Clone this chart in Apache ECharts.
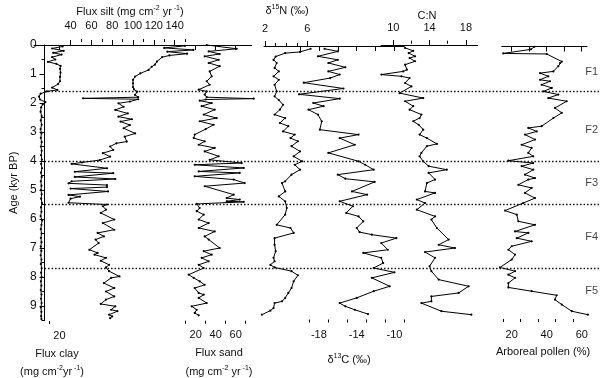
<!DOCTYPE html>
<html>
<head>
<meta charset="utf-8">
<script src="https://cdn.jsdelivr.net/npm/echarts@6/dist/echarts.min.js"></script>
<style>html,body{margin:0;background:#fff}#chart{width:600px;height:378px}</style>
</head>
<body>
<div id="chart"></div>
<script>
// [age kyr BP, value]
const clay = [[0.05,23],[0.12,13],[0.2,24],[0.27,14],[0.33,22],[0.42,13],[0.5,16],[0.58,9],[0.65,17],[0.72,21],[0.82,20.5],[0.95,21],[1.1,20.5],[1.25,20.5],[1.35,18.6],[1.47,13],[1.55,18],[1.6,8],[1.68,2],[1.78,0.5],[1.88,1.5],[1.97,6.5],[2.05,4],[2.15,2.5],[2.3,2],[2.45,3],[2.6,2.2],[2.75,3],[2.9,2],[3.05,2.8],[3.2,2.2],[3.35,3],[3.5,2.3],[3.65,3],[3.8,2.5],[3.95,3.2],[4.1,2.5],[4.25,3.3],[4.4,2.4],[4.55,3],[4.7,2.2],[4.85,2.8],[5.0,2.3],[5.15,3],[5.3,2.5],[5.45,3.3],[5.6,2.4],[5.75,2.8],[5.9,2],[6.05,3.4],[6.2,2.8],[6.35,2.2],[6.5,2.9],[6.65,2.3],[6.8,2.8],[6.95,2.2],[7.1,2.7],[7.25,2.1],[7.4,2.8],[7.55,2.3],[7.7,3],[7.85,2.5],[8.0,2.9],[8.15,2.3],[8.3,2.7],[8.45,2.2],[8.6,2.8],[8.75,2.4],[8.9,2.9],[9.05,2.3],[9.2,2.7],[9.35,2.5],[9.45,2.8]]
const silt = [[0.03,150],[0.1,130],[0.17,158],[0.23,133],[0.3,152],[0.36,135],[0.42,128],[0.57,123],[0.68,121],[0.75,118],[0.86,115],[0.98,107],[1.09,102],[1.2,100],[1.32,100],[1.45,100],[1.53,101],[1.61,104],[1.72,102],[1.8,105],[1.84,52],[1.87,105],[1.95,97],[2.01,86],[2.13,91],[2.24,83],[2.36,95],[2.47,86],[2.56,99],[2.64,88],[2.76,97],[2.87,91],[3.05,102],[3.16,92],[3.33,94],[3.39,84],[3.5,78],[3.62,81],[3.73,71],[3.85,78],[3.97,68],[4.05,51],[4.1,41],[4.25,75],[4.37,44],[4.42,81],[4.55,44],[4.62,83],[4.7,41],[4.77,38],[4.83,75],[4.9,75],[4.95,40],[5.05,76],[5.17,38],[5.23,49],[5.3,40],[5.44,38],[5.5,75],[5.56,71],[5.68,74],[5.79,69],[6.02,82],[6.14,71],[6.37,82],[6.48,66],[6.6,72],[6.71,64],[6.83,67],[7.06,58],[7.17,66],[7.23,63],[7.34,74],[7.44,69],[7.58,77],[7.67,74],[7.8,77],[7.98,87],[8.03,79],[8.21,72],[8.38,82],[8.5,74],[8.67,82],[8.78,74],[8.93,69],[9.01,83],[9.13,79],[9.18,85],[9.3,77],[9.36,80],[9.42,78]]
const sand = [[0.0,31],[0.13,61],[0.22,33],[0.31,44],[0.39,29],[0.51,43],[0.62,33],[0.73,44],[0.91,34],[1.08,36],[1.25,31],[1.37,34],[1.54,23],[1.6,31],[1.71,29],[1.8,31],[1.85,78],[1.88,30],[1.92,24],[2.0,36],[2.11,26],[2.23,39],[2.4,28],[2.52,41],[2.63,24],[2.75,38],[2.9,30],[3.09,19],[3.21,18],[3.32,29],[3.44,23],[3.55,39],[3.67,29],[3.84,43],[3.96,34],[4.07,66],[4.13,19],[4.24,68],[4.36,23],[4.41,64],[4.53,19],[4.64,58],[4.76,69],[4.87,29],[5.16,58],[5.28,51],[5.33,64],[5.39,51],[5.41,68],[5.48,21],[5.62,24],[5.73,21],[5.85,28],[6.02,23],[6.14,33],[6.31,23],[6.43,39],[6.6,29],[6.71,33],[7.0,44],[7.11,28],[7.23,36],[7.34,26],[7.46,33],[7.58,23],[7.69,28],[7.92,13],[8.03,18],[8.15,24],[8.27,29],[8.38,19],[8.55,23],[8.61,28],[8.72,23],[8.9,31],[9.01,16],[9.13,21],[9.24,19],[9.32,23]]
const d15N = [[0.13,6.3],[0.24,5.3],[0.28,3.9],[0.4,3.0],[0.51,2.8],[0.62,3.1],[0.79,2.9],[0.91,3.3],[1.08,2.8],[1.2,3.3],[1.37,2.9],[1.6,3.1],[1.77,2.9],[1.9,3.3],[2.06,3.7],[2.23,3.4],[2.4,2.9],[2.52,3.9],[2.69,3.4],[2.8,4.2],[2.98,3.7],[3.09,4.8],[3.21,4.4],[3.32,5.1],[3.49,4.5],[3.67,5.3],[3.84,4.7],[4.01,5.5],[4.13,4.8],[4.3,5.3],[4.47,4.5],[4.7,3.9],[4.76,3.6],[5.05,3.9],[5.22,3.3],[5.39,3.9],[5.62,4.05],[5.85,3.9],[6.2,3.1],[6.31,4.4],[6.48,4.7],[6.66,2.9],[6.89,2.9],[7.11,3.0],[7.34,2.8],[7.46,2.9],[7.58,2.5],[7.67,2.9],[7.8,4.5],[7.94,5.1],[8.15,4.7],[8.38,4.5],[8.55,4.2],[8.72,3.9],[8.84,3.6],[8.9,2.9],[9.07,2.8],[9.16,2.5],[9.3,1.7]]
const d13C = [[0.13,-17.4],[0.22,-16.0],[0.39,-18.1],[0.51,-16.0],[0.62,-17.0],[0.77,-15.2],[0.91,-17.0],[1.02,-15.8],[1.14,-16.8],[1.3,-19.6],[1.5,-15.4],[1.7,-20.1],[1.85,-15.8],[2.0,-18.6],[2.11,-17.5],[2.23,-19.1],[2.4,-18.1],[2.63,-17.7],[2.92,-17.9],[3.09,-13.8],[3.21,-15.8],[3.44,-14.2],[3.72,-17.0],[4.01,-13.8],[4.13,-13.1],[4.3,-12.2],[4.47,-16.0],[4.61,-15.2],[4.72,-12.1],[5.05,-14.5],[5.16,-12.9],[5.39,-15.8],[5.56,-14.4],[5.79,-15.1],[5.91,-13.8],[6.08,-13.3],[6.31,-14.0],[6.45,-13.7],[6.54,-12.4],[6.66,-9.8],[6.83,-11.4],[7.06,-10.7],[7.17,-13.3],[7.34,-11.4],[7.52,-11.2],[7.69,-12.2],[7.84,-10.0],[8.03,-12.4],[8.32,-10.5],[8.49,-12.2],[8.72,-14.0],[8.9,-15.8],[9.01,-15.2],[9.13,-14.2],[9.28,-12.8]]
const cn = [[0.1,11.3],[0.2,12.2],[0.28,11.7],[0.39,12.4],[0.45,11.8],[0.56,12.4],[0.68,11.3],[0.85,11.5],[0.91,11.1],[1.02,8.7],[1.08,10.9],[1.14,11.8],[1.31,11.3],[1.43,12.0],[1.66,10.7],[1.83,13.3],[1.94,11.3],[2.11,12.2],[2.23,11.8],[2.4,13.1],[2.52,12.9],[2.63,12.2],[2.75,12.8],[2.92,13.3],[3.09,12.9],[3.21,13.7],[3.41,14.8],[3.49,13.7],[3.72,13.1],[3.84,12.9],[4.01,13.3],[4.18,13.9],[4.3,15.9],[4.41,13.9],[4.64,14.6],[4.76,13.7],[5.05,13.5],[5.1,14.6],[5.33,12.6],[5.45,13.5],[5.68,12.6],[5.91,14.6],[6.02,14.2],[6.31,14.8],[6.71,16.1],[6.89,15.0],[7.0,16.8],[7.14,13.5],[7.34,14.6],[7.63,14.0],[7.8,14.2],[8.09,15.0],[8.32,18.3],[8.55,17.2],[8.67,14.2],[8.84,14.2],[8.9,13.1],[9.18,15.3],[9.3,18.6]]
const pollen = [[0.06,33],[0.15,31],[0.29,15.2],[0.31,40],[0.57,48.6],[0.62,47.6],[0.73,46.6],[0.91,43.8],[0.97,36.2],[1.08,40.9],[1.2,36.2],[1.25,41.9],[1.37,37.1],[1.48,42.9],[1.6,38.1],[1.71,46.6],[1.83,40.9],[1.94,51.4],[2.17,44.7],[2.34,48.6],[2.52,43.8],[2.8,37.1],[2.86,29.5],[2.98,34.3],[3.09,27.6],[3.26,33.3],[3.44,25.7],[3.55,31.4],[3.72,29.5],[3.84,32.3],[3.99,18.1],[4.07,32.3],[4.18,25.7],[4.3,32.3],[4.47,27.6],[4.59,33.3],[4.64,29.5],[4.82,23.8],[4.93,31.4],[5.1,27.6],[5.28,33.3],[5.45,26.6],[5.71,16.2],[5.85,22.9],[6.08,23.8],[6.2,33.3],[6.43,21.9],[6.48,29.5],[6.66,22.9],[6.77,31.4],[6.94,20],[7.06,18.1],[7.23,21.9],[7.4,20],[7.67,13.3],[7.8,21.9],[7.92,18.1],[8.03,21.9],[8.21,18.1],[8.36,18.1],[8.49,31.4],[8.63,45.7],[8.78,44.7],[8.95,48.6],[9.18,54.3],[9.3,63.5]]

const boundaries = [1.6, 4.0, 5.5, 7.7]
const zoneNames = ['F1', 'F2', 'F3', 'F4', 'F5']
const zoneAges = [0.93, 2.93, 4.76, 6.62, 8.48]
const ageMajors = [0, 1, 2, 3, 4, 5, 6, 7, 8, 9]
const ageMinors = [0.5, 1.5, 2.5, 3.5, 4.5, 5.5, 6.5, 7.5, 8.5, 9.5]

const FONT = 'Liberation Sans, Arial, sans-serif'
const TOP = 45, H = 275.5, AGE_MAX = 9.5
const INK = '#000'

const panels = [
  {data: clay, left: 34, width: 30, min: -4.3, max: 24.3, pos: 'bottom', offset: 0.5, margin: 9,
    majors: [20], minors: [10], labels: [20]},
  {data: silt, left: 63, width: 132, min: 32.7, max: 159.6, pos: 'top', offset: 3, margin: 11,
    majors: [40, 60, 80, 100, 120, 140], minors: [50, 70, 90, 110, 130, 150], labels: [40, 60, 80, 100, 120, 140]},
  {data: sand, left: 185, width: 66.7, min: 9.3, max: 76, pos: 'bottom', offset: 0.2, margin: 9,
    majors: [20, 40, 60], minors: [10, 30, 50, 70], labels: [20, 40, 60]},
  {data: d15N, left: 264, width: 48.3, min: 1.9, max: 6.46, pos: 'top', offset: -1, margin: 12,
    majors: [2, 6], minors: [3, 4, 5], labels: [2, 6]},
  {data: d13C, left: 298.3, width: 106, min: -20.18, max: -8.96, pos: 'bottom', offset: -1, margin: 10,
    majors: [-20, -18, -16, -14, -12, -10], minors: [-19, -17, -15, -13, -11, -9], labels: [-18, -14, -10]},
  {data: cn, left: 381, width: 96.7, min: 8.65, max: 19.3, pos: 'top', offset: 1.3, margin: 10,
    majors: [10, 14, 18], minors: [12, 16], labels: [10, 14, 18]},
  {data: pollen, left: 501.7, width: 85.3, min: 14.3, max: 63.0, pos: 'bottom', offset: -1.5, margin: 10,
    majors: [20, 30, 40, 50, 60], minors: [15, 25, 35, 45, 55], labels: [20, 40, 60]}
]

const chart = echarts.init(document.getElementById('chart'))
const tickLine = {color: INK, width: 1}
const labelStyle = {fontSize: 11, color: '#111', fontFamily: FONT}

const grids = [{left: 34, width: 566, top: TOP, height: H}]
const xAxes = [{gridIndex: 0, type: 'value', min: 0, max: 1, show: false}]
const yAxes = [
  {gridIndex: 0, type: 'value', min: 0, max: AGE_MAX, inverse: true, position: 'left',
    axisLine: {show: true, lineStyle: tickLine}, splitLine: {show: false},
    axisTick: {length: 5, customValues: ageMajors, lineStyle: tickLine},
    axisLabel: {customValues: ageMajors, margin: 8, fontSize: 12, color: '#111', fontFamily: FONT},
    name: 'Age (kyr BP)', nameLocation: 'middle', nameGap: 22, nameRotate: 90,
    nameTextStyle: {fontSize: 11, color: '#111', fontFamily: FONT}},
  {gridIndex: 0, type: 'value', min: 0, max: AGE_MAX, inverse: true, position: 'left',
    axisLine: {show: false}, splitLine: {show: false},
    axisTick: {length: 3, customValues: ageMinors, lineStyle: tickLine}, axisLabel: {show: false}}
]
const series = [{
  type: 'scatter', xAxisIndex: 0, yAxisIndex: 0, symbolSize: 0, silent: true,
  data: zoneNames.map((n, i) => [0.985, zoneAges[i], n]),
  label: {show: true, position: 'inside', formatter: p => p.value[2], fontSize: 11, color: '#111', fontFamily: FONT},
  markLine: {
    silent: true, symbol: 'none', label: {show: false},
    lineStyle: {type: [1.5, 2], color: '#111', width: 1.3},
    data: boundaries.map(a => ({yAxis: a}))
  }
}]

panels.forEach((p, k) => {
  const gi = k + 1
  grids.push({left: p.left, width: p.width, top: TOP, height: H})
  const base = {gridIndex: gi, type: 'value', min: p.min, max: p.max, position: p.pos, offset: p.offset, splitLine: {show: false}}
  xAxes.push({...base, axisLine: {show: true, lineStyle: tickLine},
    axisTick: {length: 5, customValues: p.majors, lineStyle: tickLine},
    axisLabel: {...labelStyle, customValues: p.labels, margin: p.margin}})
  xAxes.push({...base, axisLine: {show: false},
    axisTick: {length: 3, customValues: p.minors, lineStyle: tickLine}, axisLabel: {show: false}})
  yAxes.push({gridIndex: gi, type: 'value', min: 0, max: AGE_MAX, inverse: true, show: false})
  series.push({
    type: 'line', xAxisIndex: xAxes.length - 2, yAxisIndex: yAxes.length - 1,
    data: p.data.map(d => [d[1], d[0]]),
    symbol: 'circle', symbolSize: 2.2, clip: false,
    itemStyle: {color: INK}, lineStyle: {color: INK, width: 1}
  })
})

const sup = {fontSize: 7, verticalAlign: 'top', lineHeight: 14, fontFamily: FONT, fill: '#111'}
const rich = {n: {fontSize: 11, lineHeight: 14, fontFamily: FONT}, s: sup}
const txt = (x, y, text) => ({
  type: 'text', x, y,
  style: {text, rich, fontSize: 11, fontFamily: FONT, fill: '#111', align: 'center', verticalAlign: 'middle'}
})

chart.setOption({
  animation: false,
  grid: grids, xAxis: xAxes, yAxis: yAxes, series,
  graphic: [
    txt(130, 12, '{n|Flux silt (mg cm}{s|-2}{n| yr}{s| -1}{n|)}'),
    txt(287, 11, '{n|δ}{s|15}{n|N (‰)}'),
    txt(427, 16, '{n|C:N}'),
    txt(57, 354, '{n|Flux clay}'),
    txt(52, 372, '{n|(mg cm}{s|-2}{n|yr}{s| -1}{n|)}'),
    txt(219, 353, '{n|Flux sand}'),
    txt(219, 372, '{n|(mg cm}{s|-2}{n| yr}{s| -1}{n|)}'),
    txt(349, 360, '{n|δ}{s|13}{n|C (‰)}'),
    txt(543, 352, '{n|Arboreal pollen (%)}')
  ]
})
</script>
</body>
</html>
